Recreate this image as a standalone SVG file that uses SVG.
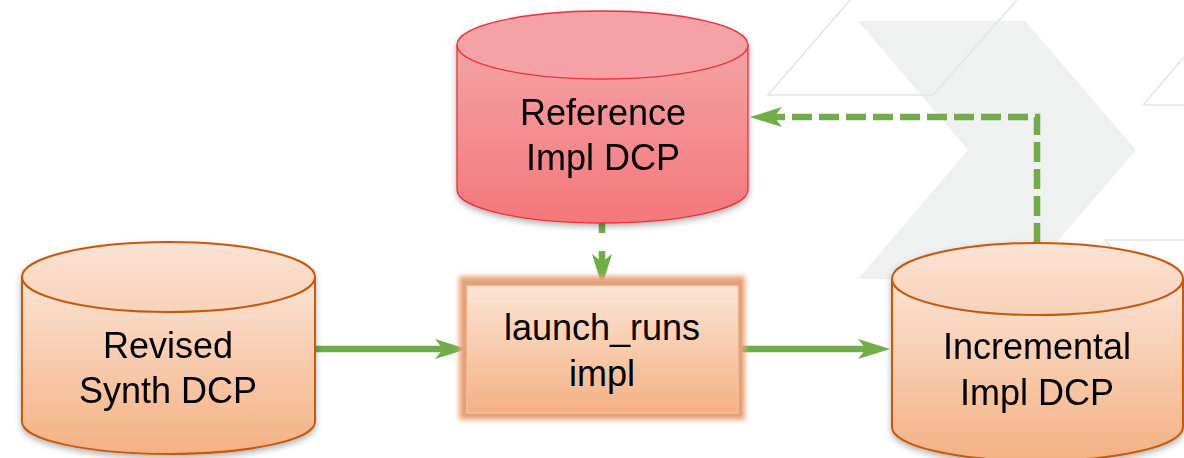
<svg xmlns="http://www.w3.org/2000/svg" width="1184" height="458" viewBox="0 0 1184 458">
<defs>
<style>
.lbl{font-family:"Liberation Sans",Arial,sans-serif;font-size:36px;fill:#000;text-anchor:middle}
.bgl{fill:none;stroke:#E4E6E6;stroke-width:1.5}
.orange{fill:url(#gO);stroke:#C55A11;stroke-width:2}
.orangeTop{fill:url(#gOT);stroke:#C55A11;stroke-width:2}
.red{fill:url(#gR);stroke:#E8323C;stroke-width:1.3}
.redTop{fill:#F4A2A5;stroke:#E8323C;stroke-width:1.3}
.conn{fill:none;stroke:#70AD47;stroke-width:6.5}
.dash{stroke-dasharray:20 7}
</style>
<linearGradient id="gO" x1="0" y1="0" x2="0" y2="1">
<stop offset="0" stop-color="#FBE3D4"/><stop offset="1" stop-color="#F4B183"/>
</linearGradient>
<linearGradient id="gOT" x1="0" y1="0" x2="0" y2="1">
<stop offset="0" stop-color="#FBE3D4"/><stop offset="1" stop-color="#F8D2BA"/>
</linearGradient>
<linearGradient id="gR" x1="0" y1="0" x2="0" y2="1">
<stop offset="0" stop-color="#F4A3A6"/><stop offset="1" stop-color="#F4777B"/>
</linearGradient>
<linearGradient id="gBox" x1="0" y1="0" x2="0" y2="1">
<stop offset="0" stop-color="#FCE4D6"/><stop offset="1" stop-color="#F4B183"/>
</linearGradient>
<filter id="shadow" x="-10%" y="-10%" width="120%" height="130%">
<feDropShadow dx="0" dy="3" stdDeviation="3" flood-color="#000" flood-opacity="0.3"/>
</filter>
<filter id="glow" x="-20%" y="-20%" width="140%" height="140%">
<feGaussianBlur stdDeviation="2.5"/>
</filter>
<marker id="arr" viewBox="0 0 32 20" refX="8" refY="10" markerWidth="32" markerHeight="20" markerUnits="userSpaceOnUse" orient="auto">
<path d="M0,0 L32,10 L0,20 L8,10 Z" fill="#70AD47"/>
</marker>
</defs>
<rect width="1184" height="458" fill="#FFFFFF"/>
<g id="background">
<polygon points="858,21 1025,21 1136,150 1025,279 858,279 968,150" fill="#EFF1F1"/>
<polyline class="bgl" points="850,0 768,95 933,95 1017,0"/>
<polyline class="bgl" points="1184,57 1143,105 1184,105"/>
<polyline class="bgl" points="1184,240 1105,240 1140,282"/>
</g>
<g id="connectors">
<path class="conn" d="M602,223 V262" style="stroke-dasharray:10 18 20" marker-end="url(#arr)"/>
<path class="conn" d="M315,349 H443" marker-end="url(#arr)"/>
<path class="conn" d="M737,349 H866" marker-end="url(#arr)"/>
<path class="conn dash" d="M1037,243 V117 H774" marker-end="url(#arr)"/>
</g>
<g id="reference" filter="url(#shadow)">
<path class="red" d="M457,45 V190 A145.5,33 0 0 0 748,190 V45 Z"/>
<ellipse class="redTop" cx="602.5" cy="45" rx="145.5" ry="34"/>
<text class="lbl" x="603" y="125">Reference</text>
<text class="lbl" x="603" y="170">Impl DCP</text>
</g>
<g id="revised" filter="url(#shadow)">
<path class="orange" d="M22,277 V422 A146.5,32 0 0 0 315,422 V277 Z"/>
<ellipse class="orangeTop" cx="168.5" cy="277" rx="146.5" ry="35"/>
<text class="lbl" x="168" y="358">Revised</text>
<text class="lbl" x="168" y="403">Synth DCP</text>
</g>
<g id="launch">
<rect x="459" y="276" width="286" height="144" fill="#E9A578" filter="url(#glow)"/>
<rect x="463" y="281" width="279" height="135" fill="#E4A27A"/>
<rect x="467" y="286" width="271" height="127" fill="url(#gBox)" stroke="#F6C9A9" stroke-width="1"/>
<text class="lbl" x="602" y="340">launch_runs</text>
<text class="lbl" x="602" y="386">impl</text>
</g>
<g id="incremental" filter="url(#shadow)">
<path class="orange" d="M892,279 V427 A145.5,34 0 0 0 1183,427 V279 Z"/>
<ellipse class="orangeTop" cx="1037.5" cy="279" rx="145.5" ry="36"/>
<text class="lbl" x="1037" y="359">Incremental</text>
<text class="lbl" x="1037" y="405">Impl DCP</text>
</g>
</svg>
